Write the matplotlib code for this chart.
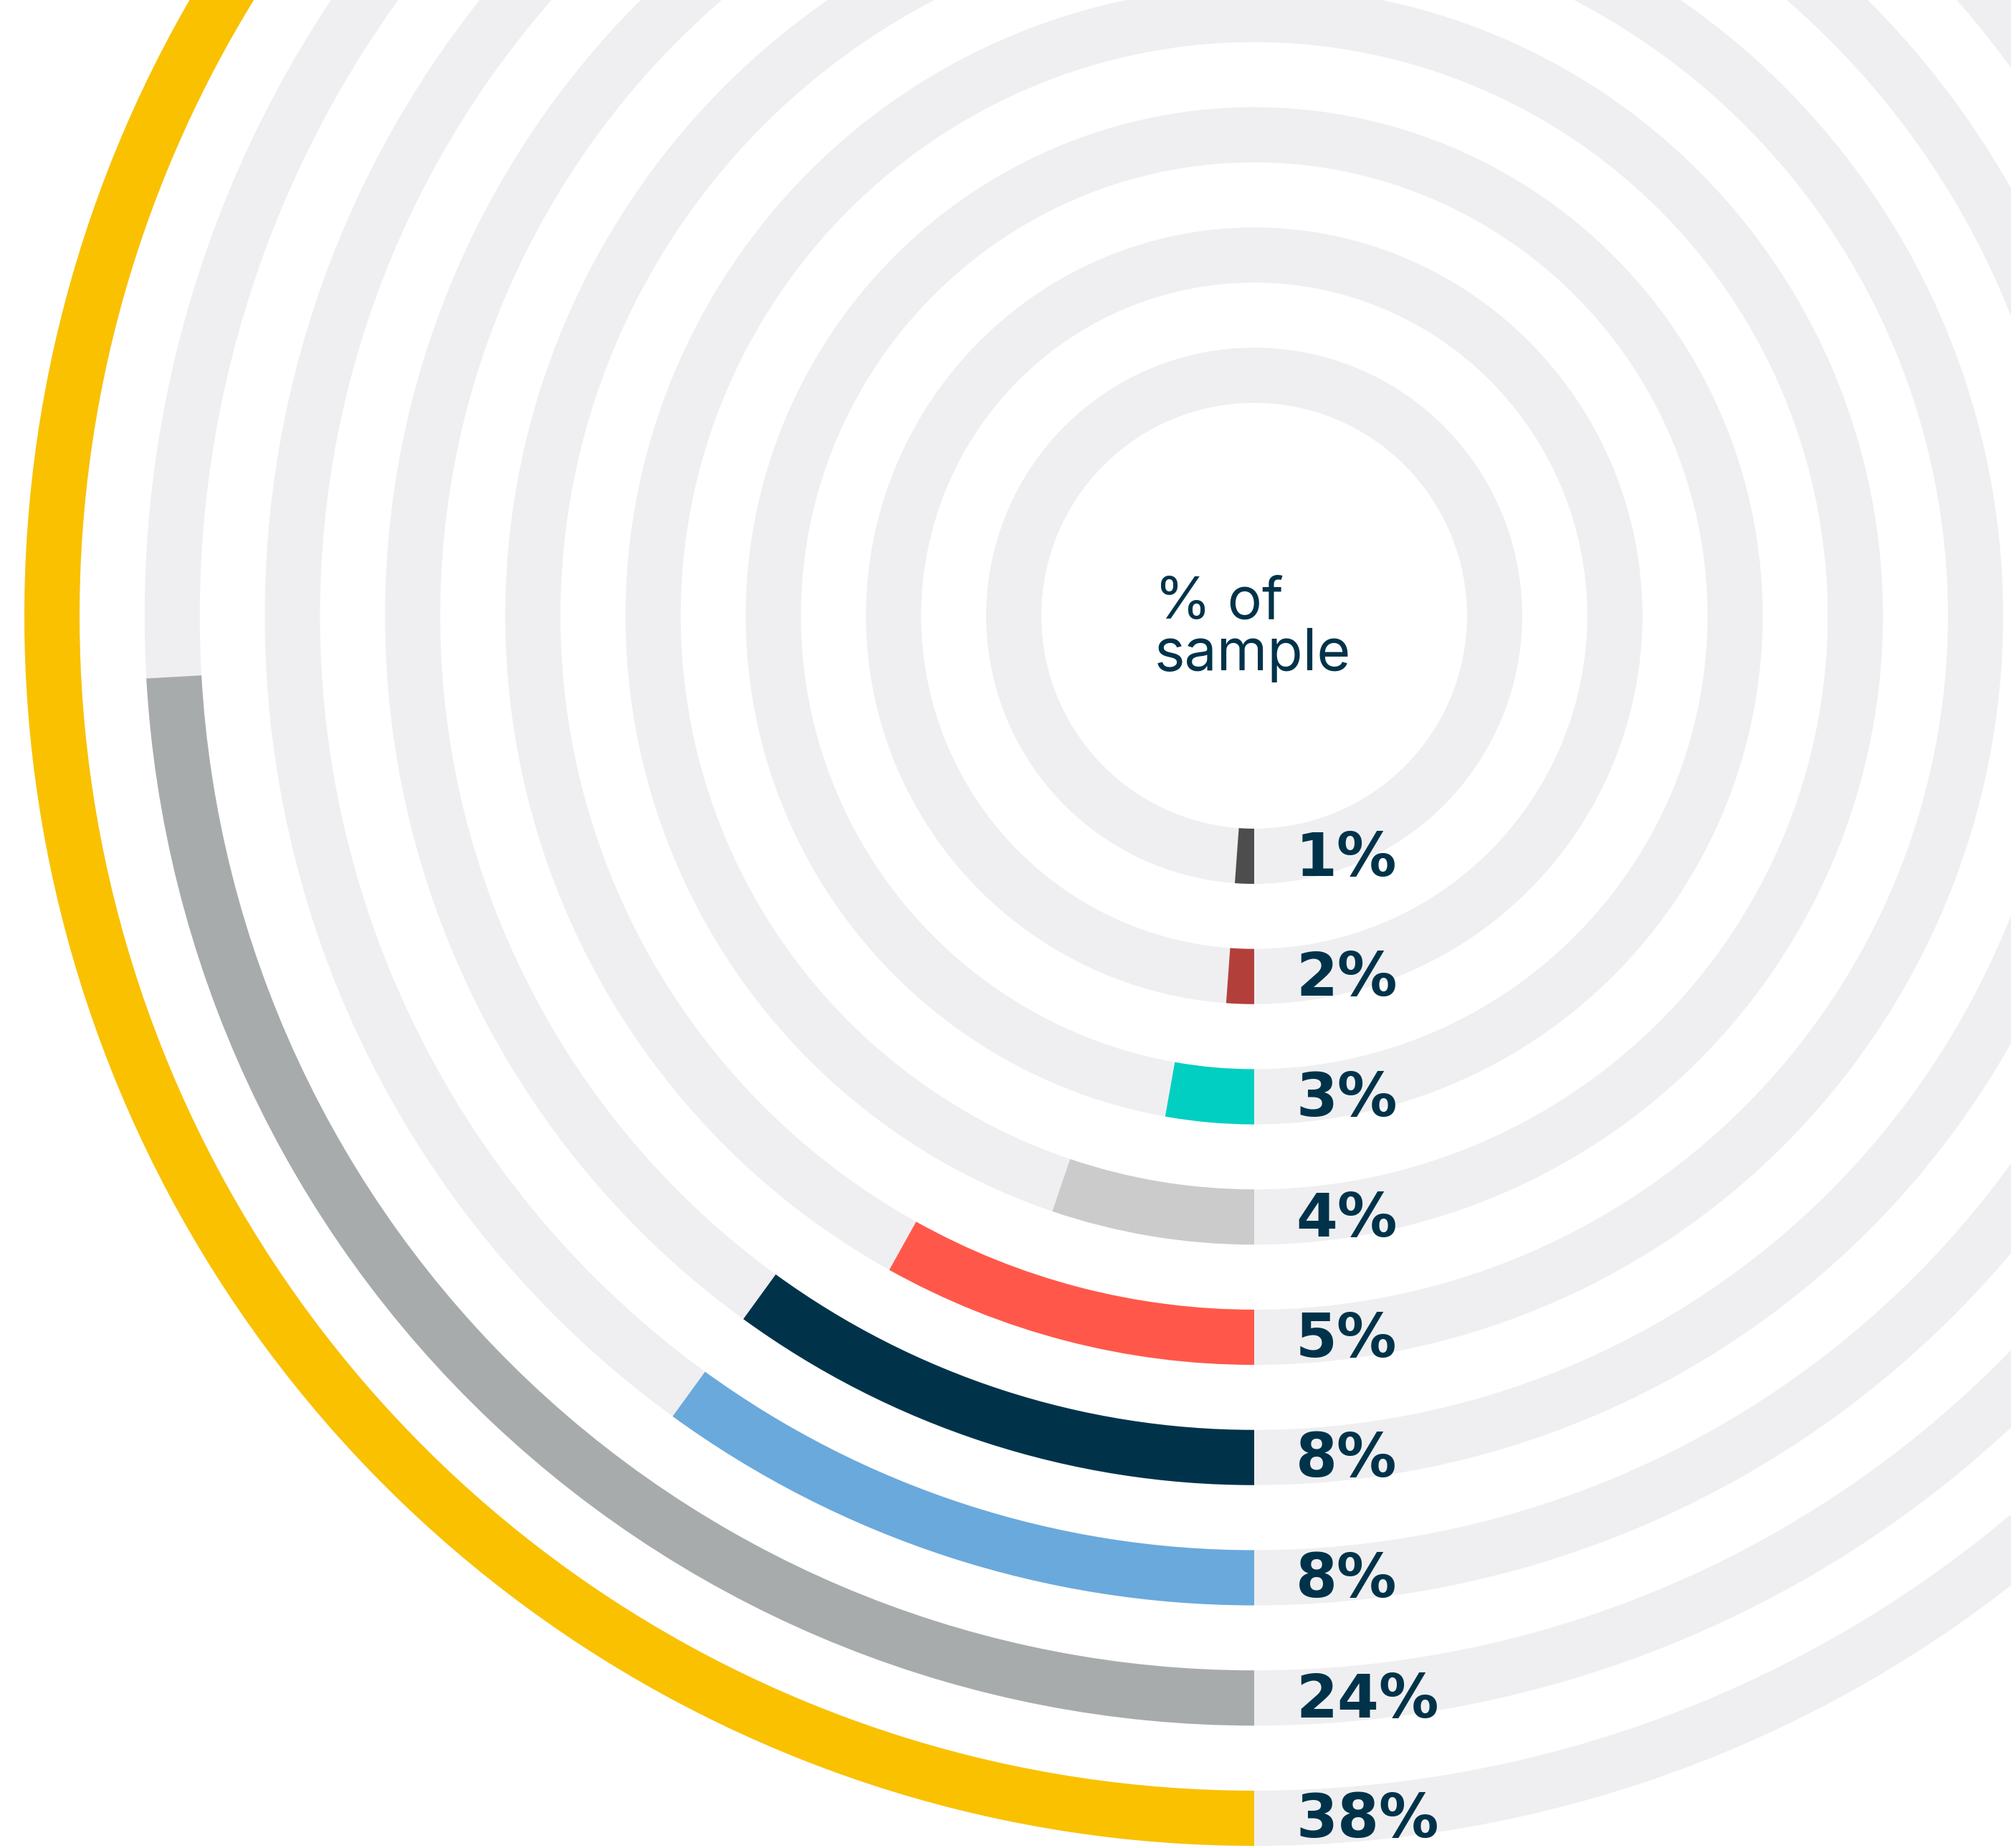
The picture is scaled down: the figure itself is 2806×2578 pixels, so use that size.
import numpy as np
import matplotlib.pyplot as plt
from matplotlib.transforms import offset_copy

# values shown next to each ring (inner -> outer)
labels = ['1%', '2%', '3%', '4%', '5%', '8%', '8%', '24%', '38%']
# share of the full circle each coloured arc sweeps
arc_share = [1.15, 1.15, 2.8, 5.2, 8.1, 10.0, 10.0, 24.1, 38.0]
colors = ['#4d4d4d', '#b33f3b', '#00cfc1', '#cbcbcb', '#ff584b',
          '#00334a', '#6aa9dc', '#a7abab', '#f9c100']
track_color = '#efeff1'
text_color = '#00334a'

W, H = 2806, 2578
cx, cy = 1750, 859        # centre of the rings in pixels (from top-left)
R = 1800                  # radial limit, 1 data unit = 1 pixel
r_first, r_step, r_width = 297, 167.75, 77

fig = plt.figure(figsize=(W / 100, H / 100), dpi=100)
fig.patch.set_facecolor('white')
ax = fig.add_axes([(cx - R) / W, (H - cy - R) / H, 2 * R / W, 2 * R / H],
                  projection='polar')
ax.set_theta_zero_location('S')
ax.set_theta_direction(-1)
ax.set_ylim(0, R)
ax.set_axis_off()

for i, (lab, share, col) in enumerate(zip(labels, arc_share, colors)):
    r0 = r_first + i * r_step
    # grey track, then coloured arc starting at 6 o'clock going clockwise
    ax.bar(0, r_width, width=2 * np.pi, bottom=r0, color=track_color,
           align='edge', linewidth=0)
    ax.bar(0, r_width, width=share / 100 * 2 * np.pi, bottom=r0, color=col,
           align='edge', linewidth=0)
    ax.text(0, r0 + r_width / 2, lab,
            transform=offset_copy(ax.transData, fig=fig, x=58, y=-27, units='dots'),
            ha='left', va='baseline', fontsize=60, fontweight='bold',
            family='DejaVu Sans', color=text_color)

# centre caption
ax.text(0, 0, '% of', transform=offset_copy(ax.transData, fig=fig, x=-139, y=-4, units='dots'),
        ha='left', va='baseline', fontsize=58, family=['Inter', 'DejaVu Sans'],
        color=text_color)
ax.text(0, 0, 'sample', transform=offset_copy(ax.transData, fig=fig, x=-139, y=-76, units='dots'),
        ha='left', va='baseline', fontsize=58, family=['Inter', 'DejaVu Sans'],
        color=text_color)

fig.savefig('out.png', dpi=100)
